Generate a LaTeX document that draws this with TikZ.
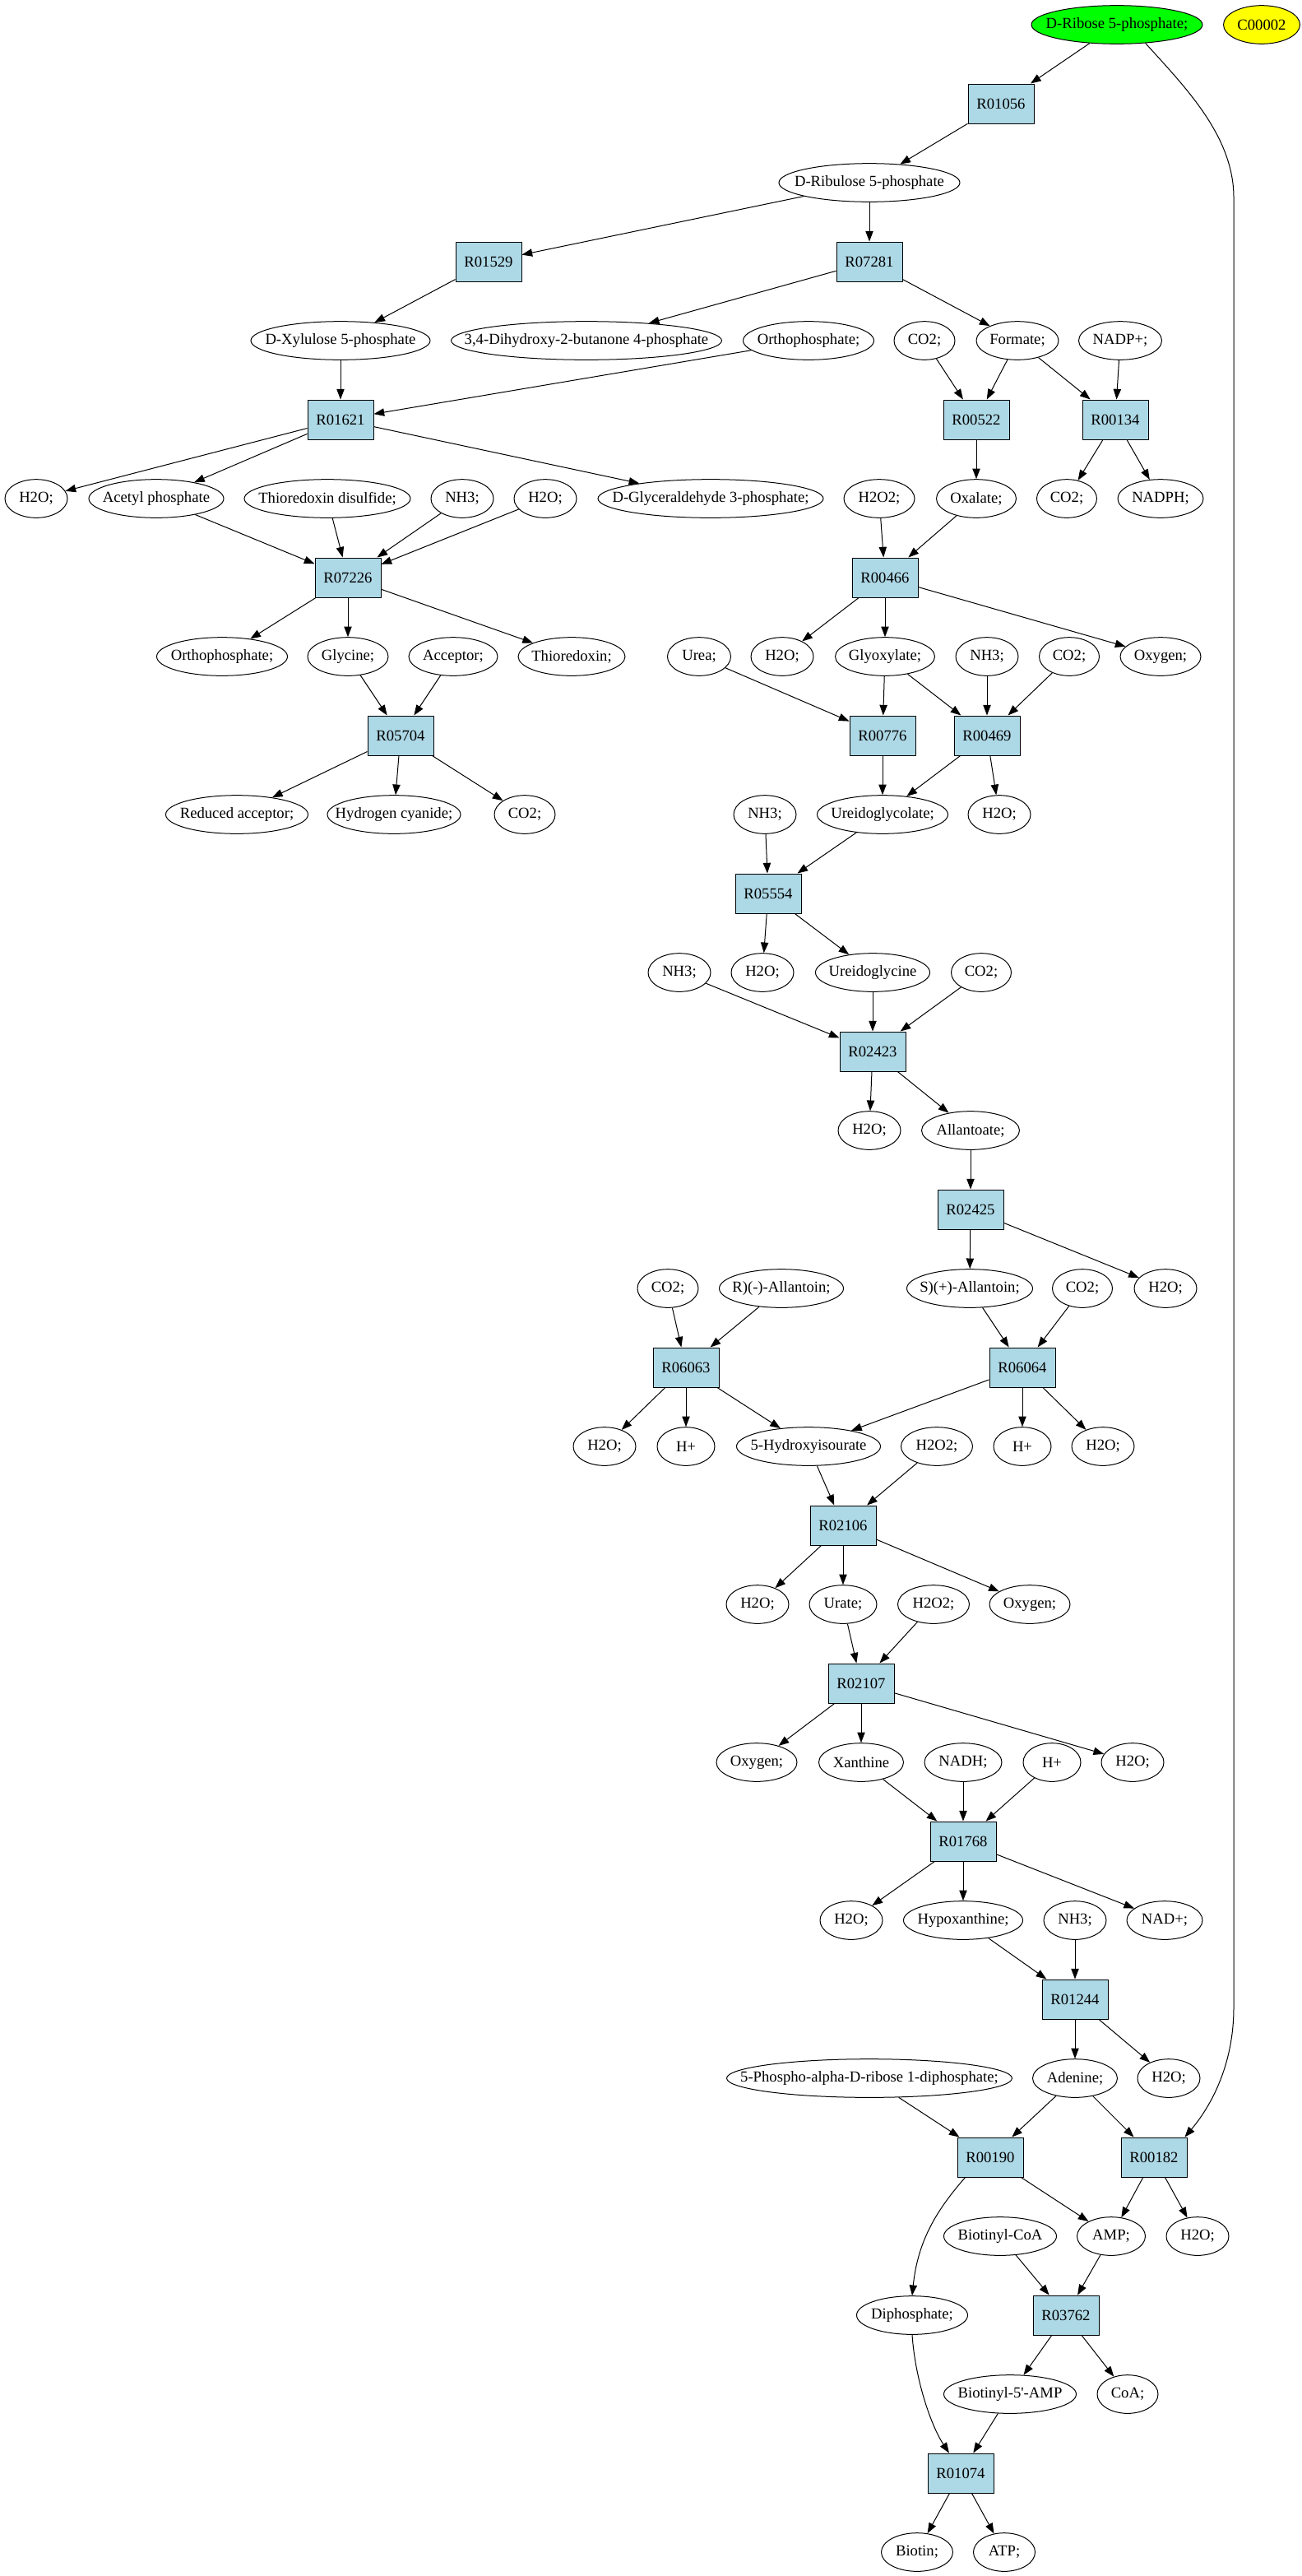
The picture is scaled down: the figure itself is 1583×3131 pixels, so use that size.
\documentclass[tikz,border=0pt]{standalone}
\usepackage{fontspec}
\setmainfont{Liberation Serif}
\usetikzlibrary{shapes.geometric,arrows.meta}
\definecolor{rxnblue}{HTML}{ADD8E6}
\definecolor{gvgreen}{HTML}{00FF00}
\definecolor{gvyellow}{HTML}{FFFF00}
\newcommand\mtxt[1]{\makebox[0pt]{#1}}
\begin{document}
\begin{tikzpicture}[x=0.75pt,y=-0.75pt,
  every node/.style={font=\fontsize{14pt}{16pt}\selectfont, line width=0.75pt},
  met/.style={ellipse, draw, inner sep=0pt, minimum height=35pt, minimum width=#1*0.75pt},
  rxn/.style={rectangle, draw, fill=rxnblue, inner sep=0pt, minimum width=60pt, minimum height=36pt},
  arr/.style={draw, line width=0.75pt, -{Triangle[length=9.5pt,width=7pt]}}]
\fill[white] (0,0) rectangle (1583,3131);
% rank 0
\node[met=208, fill=gvgreen] (ribose) at (1358,30) {\mtxt{D-Ribose 5-phosphate;}};
\node[met=93, fill=gvyellow] (cA) at (1534,30) {\mtxt{C00002}};
% rank 1
\node[rxn] (r01056) at (1217,126) {R01056};
% rank 2
\node[met=220] (ribulose) at (1057,222) {\mtxt{D-Ribulose 5-phosphate}};
% rank 3
\node[rxn] (r01529) at (594,318) {R01529};
\node[rxn] (r07281) at (1057,318) {R07281};
% rank 4
\node[met=218] (xyl) at (414,414) {\mtxt{D-Xylulose 5-phosphate}};
\node[met=329] (dhb) at (713,414) {\mtxt{3,4-Dihydroxy-2-butanone 4-phosphate}};
\node[met=159] (orthoA) at (983,414) {\mtxt{Orthophosphate;}};
\node[met=74] (co2A) at (1124,414) {\mtxt{CO2;}};
\node[met=100] (formate) at (1237,414) {\mtxt{Formate;}};
\node[met=101] (nadp) at (1362,414) {\mtxt{NADP+;}};
% rank 5
\node[rxn] (r01621) at (414,510) {R01621};
\node[rxn] (r00522) at (1187,510) {R00522};
\node[rxn] (r00134) at (1356,510) {R00134};
% rank 6
\node[met=76] (h2oA) at (44,606) {\mtxt{H2O;}};
\node[met=164] (acetp) at (190,606) {\mtxt{Acetyl phosphate}};
\node[met=202] (trxss) at (398,606) {\mtxt{Thioredoxin disulfide;}};
\node[met=76] (nh3A) at (562,606) {\mtxt{NH3;}};
\node[met=76] (h2oB) at (663,606) {\mtxt{H2O;}};
\node[met=274] (gap) at (864,606) {\mtxt{D-Glyceraldehyde 3-phosphate;}};
\node[met=86] (h2o2A) at (1069,606) {\mtxt{H2O2;}};
\node[met=97] (oxalate) at (1187,606) {\mtxt{Oxalate;}};
\node[met=73] (co2B) at (1297,606) {\mtxt{CO2;}};
\node[met=104] (nadph) at (1411,606) {\mtxt{NADPH;}};
% rank 7
\node[rxn] (r07226) at (423,702) {R07226};
\node[rxn] (r00466) at (1076,702) {R00466};
% rank 8
\node[met=159] (orthoB) at (270,798) {\mtxt{Orthophosphate;}};
\node[met=98] (glycine) at (423,798) {\mtxt{Glycine;}};
\node[met=108] (acceptor) at (551,798) {\mtxt{Acceptor;}};
\node[met=130] (trx) at (695,798) {\mtxt{Thioredoxin;}};
\node[met=77] (urea) at (850,798) {\mtxt{Urea;}};
\node[met=76] (h2oC) at (951,798) {\mtxt{H2O;}};
\node[met=121] (glyox) at (1076,798) {\mtxt{Glyoxylate;}};
\node[met=76] (nh3B) at (1200,798) {\mtxt{NH3;}};
\node[met=73] (co2C) at (1300,798) {\mtxt{CO2;}};
\node[met=98] (oxyA) at (1411,798) {\mtxt{Oxygen;}};
% rank 9
\node[rxn] (r05704) at (487,894) {R05704};
\node[rxn] (r00776) at (1073,894) {R00776};
\node[rxn] (r00469) at (1200,894) {R00469};
% rank 10
\node[met=173] (redacc) at (288,990) {\mtxt{Reduced acceptor;}};
\node[met=162] (hcn) at (479,990) {\mtxt{Hydrogen cyanide;}};
\node[met=74] (co2D) at (638,990) {\mtxt{CO2;}};
\node[met=76] (nh3C) at (930,990) {\mtxt{NH3;}};
\node[met=159] (ugc) at (1073,990) {\mtxt{Ureidoglycolate;}};
\node[met=76] (h2oD) at (1215,990) {\mtxt{H2O;}};
% rank 11
\node[rxn] (r05554) at (934,1086) {R05554};
% rank 12
\node[met=76] (nh3D) at (826,1182) {\mtxt{NH3;}};
\node[met=76] (h2oE) at (927,1182) {\mtxt{H2O;}};
\node[met=139] (ugly) at (1061,1182) {\mtxt{Ureidoglycine}};
\node[met=73] (co2E) at (1193,1182) {\mtxt{CO2;}};
% rank 13
\node[rxn] (r02423) at (1061,1278) {R02423};
% rank 14
\node[met=76] (h2oF) at (1057,1374) {\mtxt{H2O;}};
\node[met=119] (allantoate) at (1180,1374) {\mtxt{Allantoate;}};
% rank 15
\node[rxn] (r02425) at (1180,1470) {R02425};
% rank 16
\node[met=74] (co2F) at (812,1566) {\mtxt{CO2;}};
\node[met=151] (rall) at (950,1566) {\mtxt{R)(-)-Allantoin;}};
\node[met=153] (sall) at (1179,1566) {\mtxt{S)(+)-Allantoin;}};
\node[met=73] (co2G) at (1316,1566) {\mtxt{CO2;}};
\node[met=76] (h2oG) at (1417,1566) {\mtxt{H2O;}};
% rank 17
\node[rxn] (r06063) at (834,1662) {R06063};
\node[rxn] (r06064) at (1243,1662) {R06064};
% rank 18
\node[met=76] (h2oH) at (735,1758) {\mtxt{H2O;}};
\node[met=70] (hpA) at (834,1758) {\mtxt{H+}};
\node[met=175] (hiu) at (983,1758) {\mtxt{5-Hydroxyisourate}};
\node[met=87] (h2o2B) at (1139,1758) {\mtxt{H2O2;}};
\node[met=70] (hpB) at (1243,1758) {\mtxt{H+}};
\node[met=76] (h2oI) at (1341,1758) {\mtxt{H2O;}};
% rank 19
\node[rxn] (r02106) at (1025,1854) {R02106};
% rank 20
\node[met=76] (h2oJ) at (921,1950) {\mtxt{H2O;}};
\node[met=82] (urate) at (1025,1950) {\mtxt{Urate;}};
\node[met=87] (h2o2C) at (1135,1950) {\mtxt{H2O2;}};
\node[met=98] (oxyB) at (1252,1950) {\mtxt{Oxygen;}};
% rank 21
\node[rxn] (r02107) at (1047,2046) {R02107};
% rank 22
\node[met=98] (oxyC) at (920,2142) {\mtxt{Oxygen;}};
\node[met=103] (xanthine) at (1047,2142) {\mtxt{Xanthine}};
\node[met=94] (nadh) at (1171,2142) {\mtxt{NADH;}};
\node[met=70] (hpC) at (1279,2142) {\mtxt{H+}};
\node[met=76] (h2oK) at (1377,2142) {\mtxt{H2O;}};
% rank 23
\node[rxn] (r01768) at (1171,2238) {R01768};
% rank 24
\node[met=76] (h2oL) at (1035,2334) {\mtxt{H2O;}};
\node[met=145] (hypox) at (1171,2334) {\mtxt{Hypoxanthine;}};
\node[met=76] (nh3E) at (1307,2334) {\mtxt{NH3;}};
\node[met=92] (nadplus) at (1416,2334) {\mtxt{NAD+;}};
% rank 25
\node[rxn] (r01244) at (1307,2430) {R01244};
% rank 26
\node[met=347] (prpp) at (1057,2526) {\mtxt{5-Phospho-alpha-D-ribose 1-diphosphate;}};
\node[met=103] (adenine) at (1307,2526) {\mtxt{Adenine;}};
\node[met=76] (h2oM) at (1421,2526) {\mtxt{H2O;}};
% rank 27
\node[rxn] (r00190) at (1204,2622) {R00190};
\node[rxn] (r00182) at (1403,2622) {R00182};
% rank 28
\node[met=137] (bcoa) at (1216,2718) {\mtxt{Biotinyl-CoA}};
\node[met=83] (amp) at (1351,2718) {\mtxt{AMP;}};
\node[met=76] (h2oN) at (1456,2718) {\mtxt{H2O;}};
% rank 29
\node[met=135] (diphos) at (1109,2814) {\mtxt{Diphosphate;}};
\node[rxn] (r03762) at (1296,2814) {R03762};
% rank 30
\node[met=161] (bamp) at (1228,2910) {\mtxt{Biotinyl-5\textquotesingle-AMP}};
\node[met=74] (coa) at (1371,2910) {\mtxt{CoA;}};
% rank 31
\node[rxn] (r01074) at (1168,3006) {R01074};
% rank 32
\node[met=87] (biotin) at (1115,3102) {\mtxt{Biotin;}};
\node[met=75] (atp) at (1221,3102) {\mtxt{ATP;}};

% straight edges
\foreach \a/\b in {ribose/r01056, r01056/ribulose, ribulose/r01529, ribulose/r07281,
  r01529/xyl, r07281/dhb, r07281/formate, xyl/r01621, orthoA/r01621,
  co2A/r00522, formate/r00522, formate/r00134, nadp/r00134,
  r01621/h2oA, r01621/acetp, r01621/gap, r00522/oxalate, r00134/co2B, r00134/nadph,
  acetp/r07226, trxss/r07226, nh3A/r07226, h2oB/r07226, h2o2A/r00466, oxalate/r00466,
  r07226/orthoB, r07226/glycine, r07226/trx, r00466/h2oC, r00466/glyox, r00466/oxyA,
  glycine/r05704, acceptor/r05704, urea/r00776, glyox/r00776, glyox/r00469,
  nh3B/r00469, co2C/r00469,
  r05704/redacc, r05704/hcn, r05704/co2D, r00776/ugc, r00469/ugc, r00469/h2oD,
  nh3C/r05554, ugc/r05554, r05554/h2oE, r05554/ugly,
  nh3D/r02423, ugly/r02423, co2E/r02423, r02423/h2oF, r02423/allantoate,
  allantoate/r02425, r02425/sall, r02425/h2oG,
  co2F/r06063, rall/r06063, sall/r06064, co2G/r06064,
  r06063/h2oH, r06063/hpA, r06063/hiu, r06064/hiu, r06064/hpB, r06064/h2oI,
  hiu/r02106, h2o2B/r02106, r02106/h2oJ, r02106/urate, r02106/oxyB,
  urate/r02107, h2o2C/r02107, r02107/oxyC, r02107/xanthine, r02107/h2oK,
  xanthine/r01768, nadh/r01768, hpC/r01768, r01768/h2oL, r01768/hypox, r01768/nadplus,
  hypox/r01244, nh3E/r01244, r01244/adenine, r01244/h2oM,
  prpp/r00190, adenine/r00190, adenine/r00182, r00190/amp, r00182/amp, r00182/h2oN,
  bcoa/r03762, amp/r03762, r03762/bamp, r03762/coa, bamp/r01074,
  r01074/biotin, r01074/atp}
  \draw[arr] (\a) -- (\b);

% curved edges
\coordinate (bendT) at (1500,240);
\coordinate (bendB) at (1500,2440);
\draw[arr] (ribose.-33) .. controls (1440,105) and (1500,165) .. (bendT) -- (bendB)
  .. controls (1500,2515) and (1468,2565) .. ([xshift=-2.25pt]r00182.north east);
\draw[arr] ([xshift=7.5pt]r00190.south west) .. controls (1140,2685) and (1116,2722) .. (diphos.north);
\draw[arr] (diphos.south) .. controls (1113,2895) and (1133,2950) .. ([xshift=-10.5pt]r01074.north);
\end{tikzpicture}
\end{document}
